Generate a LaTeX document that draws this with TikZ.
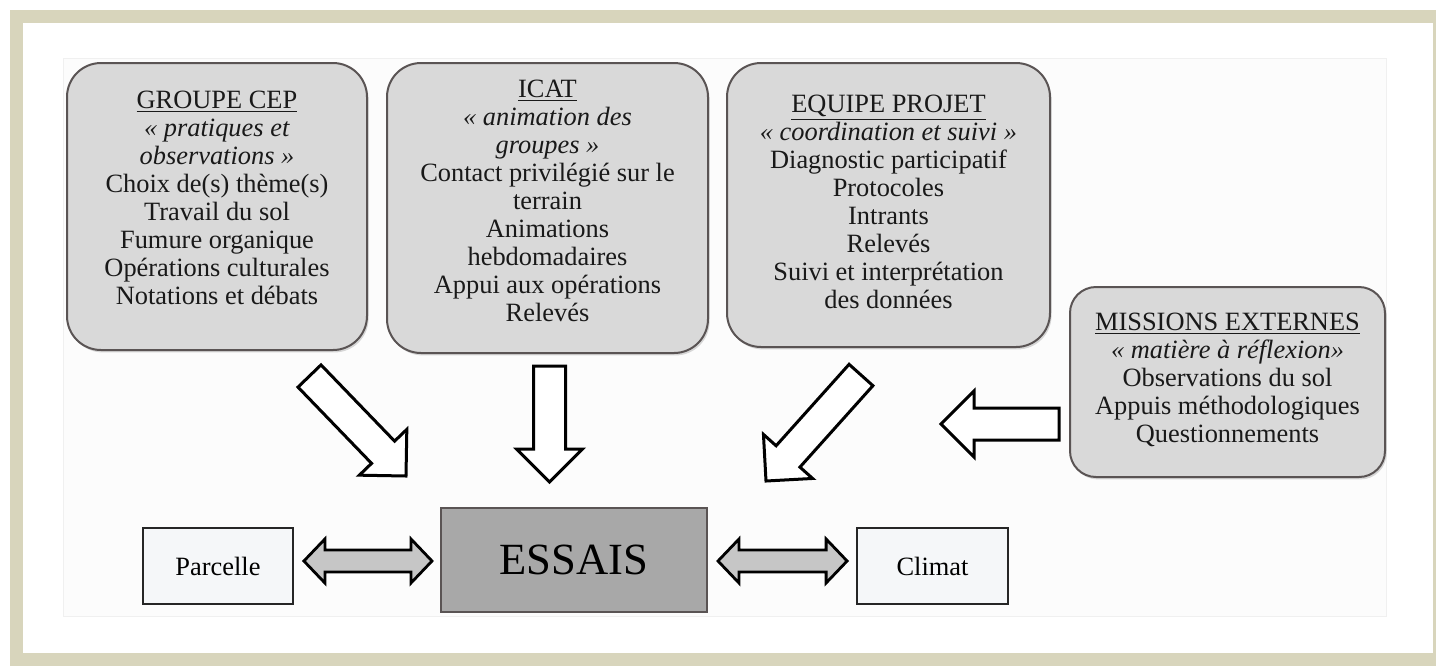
\documentclass[tikz,border=0pt]{standalone}
\usepackage{fontspec}
\setmainfont{Liberation Serif}
\usetikzlibrary{calc,shadows}
\definecolor{beige}{HTML}{D8D5BC}
\definecolor{boxfill}{HTML}{D9D9D9}
\definecolor{boxedge}{HTML}{5A5454}
\definecolor{essaisfill}{HTML}{A8A8A8}
\definecolor{darrowfill}{HTML}{C6C6C6}
\definecolor{plainfill}{HTML}{F5F7F9}
\definecolor{pagefill}{HTML}{FCFCFC}
\definecolor{pageedge}{HTML}{F0F0F0}
\tikzset{
  rbox/.style={draw=boxedge, line width=1pt, fill=boxfill, rounded corners=17pt,
    drop shadow={shadow xshift=0.8pt, shadow yshift=-1.2pt, opacity=0.3}},
  btext/.style={align=center, font=\fontsize{13.2}{14}\selectfont, inner sep=0pt, text=black!90},
  plainbox/.style={draw=black!85, line width=0.9pt, fill=plainfill,
    font=\fontsize{13.2}{14}\selectfont},
  barrow/.style={draw=black, line width=1.5pt, fill=white, line join=miter},
  darrow/.style={draw=black, line width=1.4pt, fill=darrowfill, line join=miter},
}
\newcommand\blockarrow[2]{%
  \coordinate (ba-n) at ($(#2)!16.5pt!(#1)$);
  \draw[barrow] ($(#1)!8pt!90:(#2)$) -- ($(ba-n)!8pt!90:(#2)$) -- ($(ba-n)!16.5pt!90:(#2)$)
    -- (#2) -- ($(ba-n)!16.5pt!-90:(#2)$) -- ($(ba-n)!8pt!-90:(#2)$) -- ($(#1)!8pt!-90:(#2)$) -- cycle;}
\newcommand\dblarrow[2]{%
  \coordinate (da-a) at ($(#1)!10.5pt!(#2)$);
  \coordinate (da-b) at ($(#2)!10.5pt!(#1)$);
  \draw[darrow] (#1) -- ($(da-a)!11pt!90:(#2)$) -- ($(da-a)!5.5pt!90:(#2)$)
    -- ($(da-b)!5.5pt!90:(#2)$) -- ($(da-b)!11pt!90:(#2)$) -- (#2)
    -- ($(da-b)!11pt!-90:(#2)$) -- ($(da-b)!5.5pt!-90:(#2)$)
    -- ($(da-a)!5.5pt!-90:(#2)$) -- ($(da-a)!11pt!-90:(#2)$) -- cycle;}
\begin{document}
\begin{tikzpicture}[x=0.5pt,y=-0.5pt]
\useasboundingbox (0,0) rectangle (1436,666);
\fill[white] (0,0) rectangle (1436,666);
\fill[beige] (10,10) rectangle (1436,666);
\fill[white] (23,23) rectangle (1433,653);
\draw[pageedge, fill=pagefill, line width=0.5pt] (63,58) rectangle (1386,616);

% top boxes
\node[rbox, minimum width=150pt, minimum height=143.5pt] (cep) at (217,206.5) {};
\node[btext] (cept) at ($(cep.center)+(0,-9)$) {\underline{GROUPE CEP}\\
  \textit{« pratiques et}\\ \textit{observations »}\\ Choix de(s) thème(s)\\
  Travail du sol\\ Fumure organique\\ Opérations culturales\\ Notations et débats};

\node[rbox, minimum width=160.5pt, minimum height=145pt] (icat) at (547.5,208) {};
\node[btext] (icatt) at ($(icat.center)+(0,-7)$) {\underline{ICAT}\\
  \textit{« animation des}\\ \textit{groupes »}\\ Contact privilégié sur le\\
  terrain\\ Animations\\ hebdomadaires\\ Appui aux opérations\\ Relevés};

\node[rbox, minimum width=161.5pt, minimum height=142pt] (equipe) at (888.5,205) {};
\node[btext] (equipet) at ($(equipe.center)+(0,-3)$) {\underline{EQUIPE PROJET}\\
  \textit{« coordination et suivi »}\\ Diagnostic participatif\\ Protocoles\\
  Intrants\\ Relevés\\ Suivi et interprétation\\ des données};

\node[rbox, rounded corners=13pt, minimum width=157.5pt, minimum height=95pt] (miss) at (1227.5,382) {};
\node[btext] (misst) at ($(miss.center)+(0,-2)$) {\underline{MISSIONS EXTERNES}\\
  \textit{« matière à réflexion»}\\ Observations du sol\\ Appuis méthodologiques\\
  Questionnements};

% bottom row
\node[draw=boxedge, line width=1pt, fill=essaisfill, minimum width=133pt, minimum height=52pt,
  font=\fontsize{22.3}{24}\selectfont] (essais) at (574,560) {ESSAIS};
\node[plainbox, minimum width=75pt, minimum height=38pt] (parc) at (218,566) {Parcelle};
\node[plainbox, minimum width=75.5pt, minimum height=38pt] (climat) at (932.5,566) {Climat};

% double arrows
\coordinate (p1) at ($(parc.east|-essais.center)+(10,1)$);
\coordinate (p2) at ($(essais.west)+(-8,1)$);
\dblarrow{p1}{p2}
\coordinate (c1) at ($(essais.east)+(10,1)$);
\coordinate (c2) at ($(climat.west|-essais.center)+(-9,1)$);
\dblarrow{c1}{c2}

% block arrows
\coordinate (d1s) at ($(cep.south)+(92.5,25)$);
\coordinate (d1e) at ($(essais.north west)+(-34,-31)$);
\blockarrow{d1s}{d1e}
\coordinate (d2s) at ($(icat.south)+(2,12)$);
\coordinate (d2e) at ($(essais.north)+(-24.5,-25)$);
\blockarrow{d2s}{d2e}
\coordinate (d3s) at ($(equipe.south)+(-27.5,27)$);
\coordinate (d3e) at ($(essais.north east)+(58,-26)$);
\blockarrow{d3s}{d3e}
\coordinate (d4s) at ($(miss.west)+(-10,42)$);
\coordinate (d4e) at ($(miss.west)+(-128,42)$);
\blockarrow{d4s}{d4e}
\end{tikzpicture}
\end{document}
